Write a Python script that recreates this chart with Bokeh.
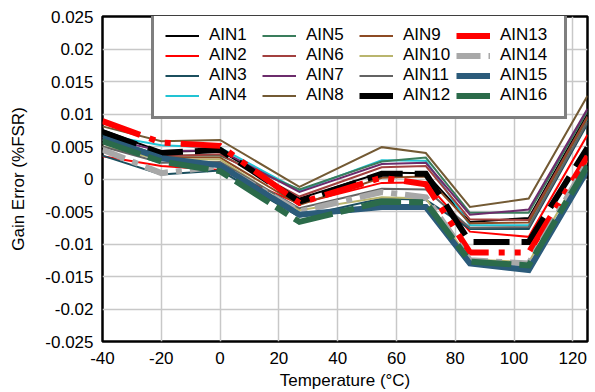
from bokeh.plotting import figure
from bokeh.models import Legend, LegendItem, FixedTicker, Range1d
from bokeh.embed import file_html
from bokeh.resources import INLINE

temps = [-40, -20, 0, 27, 55, 70, 85, 105, 125]

series_names = ["AIN1", "AIN2", "AIN3", "AIN4", "AIN5", "AIN6", "AIN7", "AIN8",
                "AIN9", "AIN10", "AIN11", "AIN12", "AIN13", "AIN14", "AIN15", "AIN16"]

ain1 = [0.0075, 0.0042, 0.0044, -0.0030, 0.0010, 0.0009, -0.0066, -0.0060, 0.0100]
ain2 = [0.0035, 0.0020, 0.0014, -0.0038, -0.0006, -0.0005, -0.0081, -0.0089, 0.0068]
ain3 = [0.0036, 0.0007, 0.0013, -0.0058, -0.0030, -0.0032, -0.0077, -0.0077, 0.0085]
ain4 = [0.0068, 0.0052, 0.0048, -0.0018, 0.0029, 0.0028, -0.0071, -0.0071, 0.0092]
ain5 = [0.0065, 0.0036, 0.0036, -0.0016, 0.0027, 0.0033, -0.0052, -0.0052, 0.0105]
ain6 = [0.0060, 0.0035, 0.0038, -0.0027, 0.0018, 0.0020, -0.0062, -0.0063, 0.0096]
ain7 = [0.0064, 0.0043, 0.0044, -0.0020, 0.0023, 0.0025, -0.0055, -0.0047, 0.0108]
ain8 = [0.0081, 0.0058, 0.0060, -0.0012, 0.0049, 0.0040, -0.0043, -0.0030, 0.0128]
ain9 = [0.0055, 0.0033, 0.0033, -0.0040, 0.0002, 0.0004, -0.0068, -0.0067, 0.0094]
ain10 = [0.0050, 0.0030, 0.0030, -0.0048, -0.0028, -0.0030, -0.0124, -0.0128, 0.0028]
ain11 = [0.0050, 0.0025, 0.0026, -0.0045, -0.0015, -0.0016, -0.0075, -0.0074, 0.0088]
ain12 = [0.0072, 0.0040, 0.0045, -0.0035, 0.0008, 0.0008, -0.0097, -0.0097, 0.0048]
ain13 = [0.0089, 0.0056, 0.0051, -0.0037, 0.0002, -0.0008, -0.0113, -0.0113, 0.0035]
ain14 = [0.0045, 0.0009, 0.0020, -0.0050, -0.0020, -0.0028, -0.0125, -0.0130, 0.0026]
ain15 = [0.0063, 0.0032, 0.0021, -0.0055, -0.0043, -0.0043, -0.0130, -0.0140, 0.0014]
ain16 = [0.0058, 0.0027, 0.0012, -0.0066, -0.0035, -0.0036, -0.0127, -0.0133, 0.0020]

all_values = [ain1, ain2, ain3, ain4, ain5, ain6, ain7, ain8,
              ain9, ain10, ain11, ain12, ain13, ain14, ain15, ain16]

y_ticks = [0.025, 0.02, 0.015, 0.01, 0.005, 0, -0.005, -0.01, -0.015, -0.02, -0.025]
y_tick_labels = ["0.025", "0.02", "0.015", "0.01", "0.005", "0", "-0.005", "-0.01",
                 "-0.015", "-0.02", "-0.025"]
x_ticks = [-40, -20, 0, 20, 40, 60, 80, 100, 120]
x_tick_labels = ["-40", "-20", "0", "20", "40", "60", "80", "100", "120"]

colors = ["#000000", "#ff0000", "#1b4f5e", "#22c3d3", "#3a7d5c", "#a3403f", "#6c2c6c", "#735a34",
          "#8d4b24", "#b9b56d", "#636363", "#000000", "#ff0000", "#a8a8a8", "#2b5b7a", "#2b6b4a"]
widths = [2, 2, 2, 2, 2, 2, 2, 2, 2, 2, 2, 6, 6, 6, 6, 6]
dashes = ["solid"] * 11 + ["36 12", "40 10 6 10 6 10", "24 8 6 8", "solid", "40 8 14 8"]

FONT = "Liberation Sans"

p = figure(width=595, height=392, output_backend="svg", toolbar_location=None,
           x_range=Range1d(-40, 125), y_range=Range1d(-0.025, 0.025),
           min_border_left=102, min_border_right=8, min_border_top=16, min_border_bottom=50)

p.outline_line_color = "black"
p.outline_line_width = 2.5
p.background_fill_color = "white"
p.border_fill_color = "white"

p.xgrid.grid_line_color = "#c8c8c8"
p.ygrid.grid_line_color = "#c8c8c8"
p.xgrid.grid_line_width = 1.5
p.ygrid.grid_line_width = 1.5

p.xaxis.ticker = FixedTicker(ticks=x_ticks)
p.yaxis.ticker = FixedTicker(ticks=y_ticks)
p.xaxis.major_label_overrides = {t: l for t, l in zip(x_ticks, x_tick_labels)}
p.yaxis.major_label_overrides = {t: l for t, l in zip(y_ticks, y_tick_labels)}

for ax in (p.xaxis[0], p.yaxis[0]):
    ax.axis_line_color = None
    ax.major_tick_line_color = None
    ax.minor_tick_line_color = None
    ax.major_tick_out = 0
    ax.major_tick_in = 0
    ax.major_label_text_font = FONT
    ax.major_label_text_font_size = "17px"
    ax.major_label_text_color = "black"
    ax.axis_label_text_font = FONT
    ax.axis_label_text_font_size = "17px"
    ax.axis_label_text_font_style = "normal"
    ax.axis_label_text_color = "black"

p.xaxis.axis_label = "Temperature (°C)"
p.yaxis.axis_label = "Gain Error (%FSR)"
p.xaxis.major_label_standoff = 10
p.yaxis.major_label_standoff = 9
p.xaxis.axis_label_standoff = 4
p.yaxis.axis_label_standoff = 14

items = []
for name, vals, c, w, d in zip(series_names, all_values, colors, widths, dashes):
    r = p.line(temps, vals, line_color=c, line_width=w, line_dash=d, line_join="miter")
    items.append(LegendItem(label=name, renderers=[r]))

legend = Legend(items=items, location=(49, 222), nrows=4,
                label_text_font=FONT, label_text_font_size="17px", label_text_color="black",
                glyph_width=34, glyph_height=19, label_height=19, label_width=53,
                label_standoff=10, spacing=0, padding=11, margin=0,
                border_line_color="black", border_line_width=3,
                background_fill_color="white", background_fill_alpha=1)
p.add_layout(legend)

open("out.html", "w").write(file_html(p, INLINE))
